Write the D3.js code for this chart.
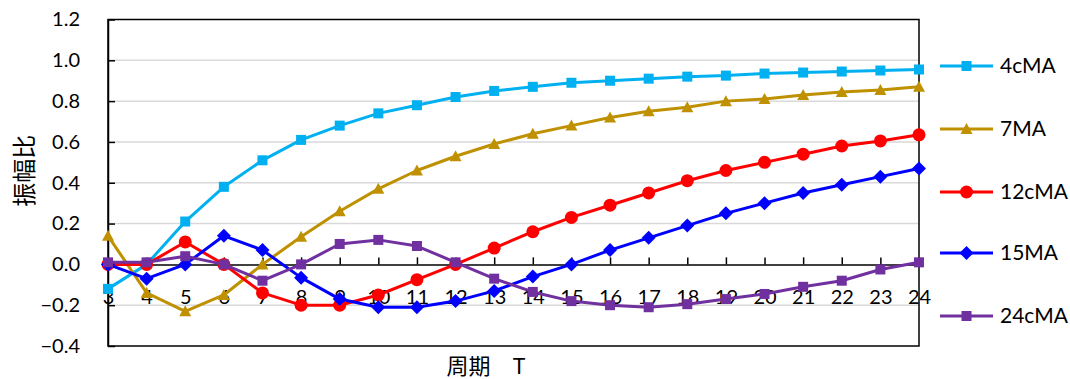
<!DOCTYPE html>
<html>
<head>
<meta charset="utf-8">
<script src="https://cdn.jsdelivr.net/npm/d3@7"></script>
<style>
  body { margin: 0; background: #fff; }
  svg { font-family: Lato, "Noto Sans CJK SC", sans-serif; }
</style>
</head>
<body>
<svg id="chart" width="1070" height="379"></svg>
<script>
// period T
var periods = [3,4,5,6,7,8,9,10,11,12,13,14,15,16,17,18,19,20,21,22,23,24];

var ma4c  = [-0.12,0.00,0.21,0.38,0.51,0.61,0.68,0.74,0.78,0.82,0.85,0.87,0.89,0.90,0.91,0.92,0.925,0.935,0.94,0.945,0.95,0.955];
var ma7   = [0.14,-0.14,-0.23,-0.15,0.00,0.135,0.26,0.37,0.46,0.53,0.59,0.64,0.68,0.72,0.75,0.77,0.80,0.81,0.83,0.845,0.855,0.87];
var ma12c = [0.00,0.00,0.11,0.00,-0.14,-0.20,-0.20,-0.15,-0.075,0.00,0.08,0.16,0.23,0.29,0.35,0.41,0.46,0.50,0.54,0.58,0.605,0.635];
var ma15  = [0.00,-0.07,0.00,0.14,0.07,-0.065,-0.17,-0.21,-0.21,-0.18,-0.13,-0.06,0.00,0.07,0.13,0.19,0.25,0.30,0.35,0.39,0.43,0.47];
var ma24c = [0.01,0.01,0.04,0.00,-0.08,0.00,0.10,0.12,0.09,0.01,-0.07,-0.135,-0.18,-0.20,-0.21,-0.195,-0.17,-0.145,-0.11,-0.08,-0.025,0.01];

var seriesNames = ["4cMA","7MA","12cMA","15MA","24cMA"];
var seriesColors = ["#00b0f0","#bf9000","#ff0000","#0000ff","#7030a0"];
var seriesShapes = ["square","triangle","circle","diamond","square"];
var yTicks = [-0.4,-0.2,0,0.2,0.4,0.6,0.8,1.0,1.2];

var series = [ma4c, ma7, ma12c, ma15, ma24c].map(function(vals, i) {
  return { name: seriesNames[i], color: seriesColors[i], shape: seriesShapes[i], values: vals };
});

var svg = d3.select('#chart');
var pLeft = 108, pRight = 919, pTop = 19.5, pBottom = 346;

var x = d3.scalePoint().domain(periods).range([pLeft, pRight]);
var y = d3.scaleLinear().domain([-0.4, 1.2]).range([pBottom, pTop]);

// gridlines
svg.append('g').selectAll('line').data(yTicks.filter(function(d){ return d !== 0 && d !== 1.2 && d !== -0.4; }))
  .enter().append('line')
  .attr('x1', pLeft).attr('x2', pRight)
  .attr('y1', function(d){ return y(d); }).attr('y2', function(d){ return y(d); })
  .attr('stroke', '#d9d9d9').attr('stroke-width', 1.5);

// plot frame
svg.append('rect').attr('x', pLeft).attr('y', pTop).attr('width', pRight - pLeft).attr('height', pBottom - pTop)
  .attr('fill', 'none').attr('stroke', '#000').attr('stroke-width', 1.5);

// y axis
var yAxis = d3.axisLeft(y).tickValues(yTicks).tickFormat(d3.format('.1f')).tickSizeInner(-7).tickSizeOuter(0).tickPadding(28);
var gy = svg.append('g').attr('transform', 'translate(' + pLeft + ',0)').call(yAxis);
gy.select('.domain').attr('stroke', '#000').attr('stroke-width', 1.5);
gy.selectAll('.tick line').attr('stroke', '#000').attr('stroke-width', 1.5);
gy.selectAll('.tick text').attr('font-size', 20).attr('fill', '#000').attr('font-family', 'Lato, sans-serif');

// x axis on zero line, ticks pointing up
var xAxis = d3.axisBottom(x).tickSizeInner(-7).tickSizeOuter(0).tickPadding(25);
var gx = svg.append('g').attr('transform', 'translate(0,' + y(0) + ')').call(xAxis);
gx.select('.domain').attr('stroke', '#000').attr('stroke-width', 1.5);
gx.selectAll('.tick line').attr('stroke', '#000').attr('stroke-width', 1.5);
gx.selectAll('.tick text').attr('font-size', 20).attr('fill', '#000').attr('font-family', 'Lato, sans-serif');

// axis titles
svg.append('text').attr('transform', 'translate(33,' + ((pTop + pBottom) / 2 - 12) + ') rotate(-90)')
  .attr('text-anchor', 'middle').attr('font-size', 24)
  .attr('font-family', '"Noto Sans CJK SC", sans-serif').text('振幅比');
svg.append('text').attr('x', 486).attr('y', 374).attr('text-anchor', 'middle').attr('font-size', 22)
  .attr('font-family', '"Noto Sans CJK SC", sans-serif').text('周期\u3000T');

function drawMarker(g, shape, color, cx, cy) {
  if (shape === 'square') {
    g.append('rect').attr('x', cx - 5).attr('y', cy - 5).attr('width', 10).attr('height', 10).attr('fill', color);
  } else if (shape === 'circle') {
    g.append('circle').attr('cx', cx).attr('cy', cy).attr('r', 6.5).attr('fill', color);
  } else if (shape === 'triangle') {
    g.append('path').attr('d', 'M' + cx + ',' + (cy - 6) + 'L' + (cx + 6) + ',' + (cy + 5) + 'L' + (cx - 6) + ',' + (cy + 5) + 'Z').attr('fill', color);
  } else if (shape === 'diamond') {
    g.append('path').attr('d', 'M' + cx + ',' + (cy - 7) + 'L' + (cx + 7) + ',' + cy + 'L' + cx + ',' + (cy + 7) + 'L' + (cx - 7) + ',' + cy + 'Z').attr('fill', color);
  }
}

var line = d3.line()
  .x(function(d, i){ return x(periods[i]); })
  .y(function(d){ return y(d); });

series.forEach(function(s) {
  var g = svg.append('g').attr('class', 'series');
  g.append('path').attr('d', line(s.values)).attr('fill', 'none').attr('stroke', s.color)
    .attr('stroke-width', 3).attr('stroke-linejoin', 'round');
  s.values.forEach(function(v, i) { drawMarker(g, s.shape, s.color, x(periods[i]), y(v)); });
});

// legend
var legendY = [66, 129, 192, 253, 316];
series.forEach(function(s, i) {
  var g = svg.append('g').attr('class', 'legend');
  g.append('line').attr('x1', 940).attr('x2', 993).attr('y1', legendY[i]).attr('y2', legendY[i])
    .attr('stroke', s.color).attr('stroke-width', 3);
  drawMarker(g, s.shape, s.color, 966.5, legendY[i]);
  g.append('text').attr('x', 1000).attr('y', legendY[i]).attr('dy', '0.35em')
    .attr('font-size', 21).attr('fill', '#000').text(s.name);
});
</script>
</body>
</html>
